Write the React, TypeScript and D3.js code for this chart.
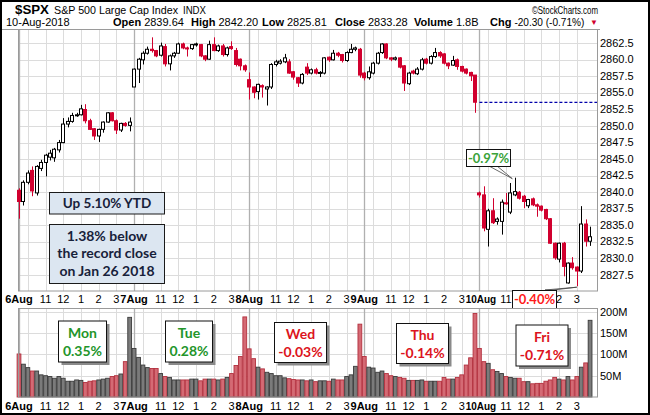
import React from 'react';
import * as d3 from 'd3';

type OHLC = [number, number, number, number]; // open, high, low, close

const dayLabels = ['6Aug', '7Aug', '8Aug', '9Aug', '10Aug'];
const barsPerDay = 26; // 15-minute bars
const gridSlots = [2, 6, 10, 14, 18, 22];
const hourSlots = [6, 10, 14, 18, 22];
const hourLabels = ['11', '12', '1', '2', '3'];

const aug6: OHLC[] = [
  [2840.3, 2840.6, 2836.0, 2838.6], [2838.6, 2841.8, 2838.0, 2841.5], [2841.5, 2843.3, 2841.2, 2842.9],
  [2843.3, 2843.9, 2839.4, 2840.2], [2839.9, 2844.1, 2839.5, 2843.9], [2843.6, 2844.9, 2843.2, 2844.5],
  [2844.5, 2845.8, 2842.4, 2845.6], [2845.3, 2846.4, 2844.8, 2845.9], [2845.2, 2846.7, 2844.6, 2846.5],
  [2846.4, 2847.9, 2846.0, 2847.5], [2847.5, 2851.2, 2847.4, 2850.3], [2850.3, 2851.3, 2849.8, 2850.7],
  [2850.7, 2852.0, 2850.5, 2851.6], [2851.6, 2852.0, 2851.4, 2851.7], [2851.7, 2853.2, 2851.6, 2852.6],
  [2852.5, 2853.3, 2850.4, 2850.8], [2850.8, 2851.1, 2849.4, 2849.5], [2849.6, 2849.7, 2847.9, 2848.5],
  [2848.5, 2849.6, 2847.6, 2849.5], [2849.5, 2850.7, 2849.0, 2850.6], [2850.6, 2852.1, 2850.5, 2852.0],
  [2852.0, 2852.1, 2850.7, 2850.8], [2850.8, 2851.0, 2848.8, 2849.4], [2849.4, 2850.5, 2849.1, 2850.4],
  [2850.4, 2850.6, 2849.9, 2850.1], [2850.1, 2851.3, 2849.2, 2850.6],
];
const aug7: OHLC[] = [
  [2855.9, 2858.7, 2855.9, 2858.6], [2858.6, 2860.3, 2856.5, 2860.1], [2860.0, 2861.3, 2859.3, 2861.0],
  [2861.0, 2862.0, 2860.8, 2861.6], [2861.6, 2863.4, 2861.1, 2861.4], [2861.4, 2861.5, 2860.4, 2860.6],
  [2860.7, 2862.6, 2860.5, 2862.1], [2862.0, 2862.4, 2859.0, 2859.4], [2859.4, 2860.8, 2858.4, 2860.6],
  [2860.6, 2861.2, 2860.3, 2861.0], [2861.0, 2862.6, 2860.9, 2862.4], [2862.4, 2862.6, 2861.6, 2861.8],
  [2861.8, 2862.0, 2860.5, 2861.7], [2861.7, 2862.4, 2861.5, 2862.3], [2862.3, 2862.6, 2862.0, 2862.4],
  [2862.3, 2862.4, 2860.4, 2860.6], [2860.6, 2860.7, 2859.8, 2860.1], [2860.1, 2862.9, 2860.0, 2862.3],
  [2862.3, 2863.4, 2861.3, 2861.4], [2861.4, 2862.3, 2861.2, 2862.1], [2862.1, 2862.4, 2860.5, 2860.8],
  [2860.8, 2862.0, 2860.5, 2861.8], [2862.0, 2862.8, 2861.5, 2861.7], [2861.4, 2861.8, 2859.0, 2859.3],
  [2860.1, 2860.2, 2858.4, 2859.1], [2859.1, 2859.3, 2858.2, 2858.5],
];
const aug8: OHLC[] = [
  [2857.0, 2858.1, 2854.0, 2855.9], [2855.9, 2856.0, 2854.2, 2855.1], [2855.2, 2856.4, 2854.0, 2856.3],
  [2856.1, 2856.3, 2854.3, 2855.9], [2855.6, 2856.0, 2853.1, 2855.9], [2855.9, 2859.5, 2855.6, 2859.3],
  [2859.3, 2860.0, 2859.0, 2859.7], [2859.5, 2860.1, 2859.3, 2859.8], [2859.7, 2860.9, 2859.5, 2860.3],
  [2859.7, 2860.1, 2857.9, 2858.0], [2858.2, 2858.3, 2857.0, 2857.4], [2857.3, 2857.4, 2855.9, 2856.5],
  [2856.5, 2858.0, 2856.3, 2857.8], [2858.9, 2859.5, 2857.7, 2858.0], [2858.0, 2858.7, 2857.8, 2858.5],
  [2858.5, 2858.8, 2857.8, 2858.0], [2858.0, 2858.3, 2857.4, 2858.1], [2858.0, 2860.4, 2857.8, 2860.3],
  [2860.4, 2860.5, 2859.7, 2860.0], [2860.0, 2861.5, 2859.9, 2861.0], [2861.0, 2861.2, 2860.4, 2860.7],
  [2860.8, 2860.9, 2859.6, 2859.9], [2859.9, 2861.3, 2859.7, 2861.1], [2861.1, 2862.4, 2861.0, 2861.6],
  [2861.6, 2862.0, 2861.3, 2861.8], [2861.6, 2861.8, 2857.3, 2857.7],
];
const aug9: OHLC[] = [
  [2858.0, 2858.2, 2856.9, 2857.3], [2857.3, 2859.0, 2857.0, 2858.2], [2858.0, 2859.7, 2857.8, 2859.5],
  [2859.5, 2861.2, 2859.3, 2861.0], [2861.1, 2862.5, 2860.9, 2862.4], [2862.4, 2862.5, 2860.1, 2860.3],
  [2860.3, 2860.4, 2859.8, 2860.1], [2860.1, 2860.5, 2859.9, 2860.3], [2860.3, 2860.4, 2858.7, 2858.9],
  [2859.1, 2859.2, 2855.3, 2856.5], [2856.4, 2858.2, 2856.2, 2858.0], [2858.3, 2858.5, 2857.8, 2858.0],
  [2857.9, 2858.9, 2857.7, 2858.6], [2858.6, 2860.3, 2858.4, 2860.0], [2860.1, 2860.3, 2859.3, 2859.5],
  [2859.5, 2860.7, 2859.3, 2860.5], [2860.5, 2861.8, 2860.3, 2861.1], [2861.1, 2861.3, 2860.3, 2860.6],
  [2860.9, 2861.0, 2859.3, 2859.5], [2859.5, 2859.6, 2858.6, 2859.1], [2859.2, 2860.6, 2859.1, 2859.9],
  [2860.0, 2860.2, 2858.5, 2859.0], [2859.0, 2859.1, 2858.1, 2858.3], [2858.6, 2858.7, 2857.8, 2858.0],
  [2858.1, 2858.2, 2856.8, 2857.6], [2857.7, 2857.7, 2852.0, 2853.6],
];
const aug10: OHLC[] = [
  [2839.9, 2840.1, 2839.2, 2839.6], [2839.6, 2840.9, 2834.1, 2834.6], [2834.4, 2837.5, 2831.8, 2837.2],
  [2837.2, 2839.1, 2835.2, 2835.4], [2835.6, 2836.2, 2835.1, 2835.95], [2835.6, 2838.9, 2833.6, 2838.5],
  [2838.4, 2839.9, 2838.1, 2838.3], [2837.0, 2841.4, 2836.7, 2839.9], [2839.6, 2842.2, 2839.4, 2840.1],
  [2840.0, 2840.2, 2838.9, 2839.1], [2839.4, 2839.6, 2837.6, 2838.6], [2837.96, 2839.0, 2837.6, 2838.9],
  [2839.0, 2839.2, 2837.9, 2838.1], [2838.1, 2838.3, 2836.3, 2837.9], [2837.9, 2838.0, 2837.1, 2837.3],
  [2837.4, 2837.5, 2835.8, 2836.0], [2836.0, 2836.1, 2832.2, 2832.3], [2832.3, 2832.4, 2829.8, 2830.1],
  [2829.9, 2832.4, 2829.4, 2832.3], [2832.3, 2832.5, 2827.3, 2828.8], [2826.3, 2829.4, 2826.2, 2829.3],
  [2829.3, 2830.2, 2828.3, 2828.6], [2828.7, 2828.8, 2825.81, 2828.1], [2828.1, 2837.9, 2827.8, 2835.2],
  [2835.2, 2835.9, 2831.8, 2832.6], [2832.6, 2834.8, 2831.9, 2833.28],
];

// volume in millions per 15-minute bar
const vol6 = [101, 77, 69, 61, 61, 52, 50, 48, 44, 48, 44, 37, 37, 40, 39, 34, 37, 38, 40, 42, 44, 48, 50, 54, 83, 187];
const vol7 = [114, 93, 75, 69, 67, 67, 55, 48, 46, 40, 40, 40, 40, 42, 42, 38, 42, 42, 42, 40, 42, 46, 55, 74, 95, 188];
const vol8 = [113, 90, 70, 66, 58, 55, 50, 50, 45, 43, 41, 40, 40, 38, 40, 36, 38, 38, 37, 42, 40, 40, 48, 52, 72, 171];
const vol9 = [95, 70, 68, 58, 61, 55, 50, 48, 46, 44, 39, 39, 39, 40, 37, 37, 37, 37, 46, 42, 42, 46, 52, 75, 92, 196];
const vol10 = [114, 83, 79, 64, 60, 55, 48, 46, 44, 44, 36, 36, 31, 32, 32, 37, 40, 46, 42, 40, 48, 40, 48, 70, 80, 180];

const priceTicks = [2827.5, 2830, 2832.5, 2835, 2837.5, 2840, 2842.5, 2845, 2847.5, 2850, 2852.5, 2855, 2857.5, 2860, 2862.5];
const volTicks = [50, 100, 150, 200];
const prevClose = 2853.58;

const headerFields: [string, string][] = [
  ['Open', '2839.64'], ['High', '2842.20'], ['Low', '2825.81'], ['Close', '2833.28'], ['Volume', '1.8B'], ['Chg', '-20.30 (-0.71%)'],
];
const dayNotes = [
  { day: 'Mon', chg: '0.35%', up: true },
  { day: 'Tue', chg: '0.28%', up: true },
  { day: 'Wed', chg: '-0.03%', up: false },
  { day: 'Thu', chg: '-0.14%', up: false },
  { day: 'Fri', chg: '-0.71%', up: false },
];
const ytdText = 'Up 5.10% YTD';
const recordLines = ['1.38% below', 'the record close', 'on Jan 26  2018'];
const callouts = [
  { label: '-0.97%', bar: 112, anchor: 'high', up: true },
  { label: '-0.40%', bar: 126, anchor: 'low', up: false },
];

// layout (pixels)
const FA = "'Liberation Sans', Arial, Helvetica, sans-serif";
const FN = "Lato, 'Open Sans', sans-serif";
const RED = '#d1002e';
const P = { x0: 18, x1: 597, y0: 29.5, y1: 291 };
const V = { x0: 18, x1: 597, y0: 308.5, y1: 397 };
const headerX = [113, 191, 262, 335, 414, 490];
const headerValueWidth: Record<string, number> = { Chg: 70 };
const noteBoxes = [
  { x: 58.5, y: 321, w: 48, h: 41 },
  { x: 165.5, y: 321, w: 47, h: 41 },
  { x: 274.5, y: 322.5, w: 52, h: 40 },
  { x: 396.5, y: 323.5, w: 52, h: 40 },
  { x: 516, y: 325, w: 52, h: 41 },
];
const calloutBoxes = [
  { x: 466, y: 149, w: 44, h: 17, base: [[489, 166], [497, 166]] },
  { x: 512, y: 290, w: 44, h: 18, base: [[545, 290], [553, 290]] },
];

export default function App() {
  const candles: OHLC[] = [...aug6, ...aug7, ...aug8, ...aug9, ...aug10];
  const volumes: number[] = [...vol6, ...vol7, ...vol8, ...vol9, ...vol10];
  const n = candles.length;

  const x = d3.scaleLinear().domain([0, n - 1]).range([19, 19 + (n - 1) * 4.427]);
  const yP = d3.scaleLinear().domain([2827.5, 2862.5]).range([275, 43.3]);
  const yV = d3.scaleLinear().domain([0, 200]).range([397, 311.8]);
  const fmt = d3.format('.1f');

  const vLines: { x: number; day: boolean }[] = [];
  dayLabels.forEach((_, d) => {
    vLines.push({ x: x(d * barsPerDay), day: true });
    gridSlots.forEach((s) => vLines.push({ x: x(d * barsPerDay + s), day: false }));
  });
  const crisp = (v: number) => Math.round(v) + 0.5;

  // hour labels hidden behind the -0.40% callout box in the price panel
  const hidden = (px: number, isPrice: boolean) => {
    if (!isPrice) return false;
    const b = calloutBoxes[1];
    return px > b.x + 2 && px < b.x + b.w;
  };

  const xLabels = (baseline: number, keyp: string, isPrice: boolean) =>
    dayLabels.map((lab, d) => {
      const dx = x(d * barsPerDay);
      const wide = lab.length > 4;
      return (
        <g key={keyp + d}>
          <text x={wide ? dx + 1.5 : dx} y={baseline} textAnchor="middle" fontWeight="bold" fontSize={11} fontFamily={FA}
            textLength={wide ? 30.5 : undefined} lengthAdjust="spacingAndGlyphs">{lab}</text>
          {hourSlots.map((s, j) =>
            hidden(x(d * barsPerDay + s), isPrice) ? null : (
              <text key={j} x={x(d * barsPerDay + s)} y={baseline} textAnchor="middle" fontSize={11} fontFamily={FA}>{hourLabels[j]}</text>
            )
          )}
        </g>
      );
    });

  return (
    <div style={{ position: 'absolute', left: 0, top: 0 }}>
      <svg width={650} height={415} style={{ display: 'block', background: '#fff' }}>
        <rect x={0} y={0} width={650} height={415} fill="#fff" />
        {/* header */}
        <text x={15} y={14} fontFamily={FA} fontWeight="bold" fontSize={13.5} textLength={34} lengthAdjust="spacingAndGlyphs">$SPX</text>
        <text x={54} y={14} fontFamily={FA} fontSize={11} textLength={124} lengthAdjust="spacingAndGlyphs">{'S&P 500 Large Cap Index'}</text>
        <text x={183} y={14} fontFamily={FA} fontSize={10} textLength={23} lengthAdjust="spacingAndGlyphs">INDX</text>
        <text x={532} y={14} fontFamily={FA} fontSize={10.5} textLength={66} lengthAdjust="spacingAndGlyphs">©StockCharts.com</text>
        <text x={6} y={26} fontFamily={FA} fontSize={11}>10-Aug-2018</text>
        {headerFields.map(([k, v], i) => (
          <text key={k} x={headerX[i]} y={26} fontFamily={FA} fontSize={11}>
            <tspan fontWeight="bold">{k}</tspan>
            <tspan dx={3} textLength={headerValueWidth[k]} lengthAdjust="spacingAndGlyphs">{v}</tspan>
          </text>
        ))}
        <text x={590} y={25} fontFamily={FA} fontSize={8} fill={RED}>▼</text>
        <line x1={2} x2={600} y1={29.5} y2={29.5} stroke="#9a9a9a" />

        {/* price panel grid */}
        {priceTicks.map((t) => (
          <line key={'hp' + t} x1={P.x0} x2={P.x1} y1={crisp(yP(t))} y2={crisp(yP(t))} stroke="#dcdcdc" />
        ))}
        {vLines.map((l, i) => (
          <line key={'vp' + i} x1={crisp(l.x)} x2={crisp(l.x)} y1={P.y0} y2={P.y1} stroke={l.day ? '#b0b0b0' : '#dcdcdc'} strokeWidth={l.day ? 1.3 : 1} />
        ))}
        <rect x={P.x0 + 0.5} y={P.y0} width={P.x1 - P.x0} height={P.y1 - P.y0} fill="none" stroke="#9a9a9a" />

        {/* info boxes */}
        <rect x={49.5} y={192.5} width={115} height={21.5} fill="#dce6f1" stroke="#1a1a1a" />
        <text x={107} y={208.3} textAnchor="middle" fontFamily={FN} fontWeight="bold" fontSize={13.5} fill="#17213a">{ytdText}</text>
        <rect x={49.5} y={224.5} width={115} height={59} fill="#dce6f1" stroke="#1a1a1a" />
        {recordLines.map((t, i) => (
          <text key={t} x={107} y={240.5 + i * 17.6} textAnchor="middle" fontFamily={FN} fontWeight="bold" fontSize={14} fill="#17213a">{t}</text>
        ))}

        {/* previous close dashed */}
        <line x1={x(4 * barsPerDay)} x2={P.x1} y1={yP(prevClose)} y2={yP(prevClose)} stroke="#0000aa" strokeWidth={1.2} strokeDasharray="3,2" />

        {/* candles */}
        {candles.map((d, k) => {
          const [o, h, l, c] = d;
          const cx = crisp(x(k));
          const up = c >= o;
          const col = up ? '#000' : RED;
          const yt = yP(Math.max(o, c));
          const yb = yP(Math.min(o, c));
          return (
            <g key={'c' + k}>
              <line x1={cx} x2={cx} y1={yP(h)} y2={yP(l)} stroke={col} strokeWidth={1} />
              <rect x={cx - 2} y={yt} width={3} height={Math.max(1, yb - yt)} fill={up ? '#fff' : RED} stroke={col} strokeWidth={1} />
            </g>
          );
        })}

        {/* price axis labels */}
        {priceTicks.map((t) => (
          <text key={'pl' + t} x={600} y={yP(t) + 3.5} fontFamily={FA} fontSize={11}>{fmt(t)}</text>
        ))}
        {xLabels(303.3, 'px', true)}

        {/* callouts */}
        {callouts.map((cl, i) => {
          const b = calloutBoxes[i];
          const [, h, l] = candles[cl.bar];
          const tip: [number, number] = cl.anchor === 'high' ? [x(cl.bar) - 2.5, yP(h) + 1] : [x(cl.bar), yP(l) + 1];
          const pts = [b.base[0], tip, b.base[1]].map((p) => p.join(',')).join(' ');
          return (
            <g key={'cl' + i}>
              <polygon points={pts} fill="#fff" stroke="#444" strokeWidth={0.8} />
              <rect x={b.x + 0.5} y={b.y + 0.5} width={b.w} height={b.h} fill="#fff" stroke="#111" />
              <text x={b.x + b.w / 2 + 0.5} y={b.y + b.h / 2 + 5} textAnchor="middle" fontFamily={FN} fontWeight="bold" fontSize={13} fill={cl.up ? '#3aa33a' : '#ff1a1a'}>{cl.label}</text>
            </g>
          );
        })}

        {/* volume panel grid */}
        {volTicks.map((t) => (
          <line key={'hv' + t} x1={V.x0} x2={V.x1} y1={crisp(yV(t))} y2={crisp(yV(t))} stroke="#dcdcdc" />
        ))}
        {vLines.map((l, i) => (
          <line key={'vv' + i} x1={crisp(l.x)} x2={crisp(l.x)} y1={V.y0} y2={V.y1} stroke={l.day ? '#b0b0b0' : '#dcdcdc'} strokeWidth={l.day ? 1.3 : 1} />
        ))}
        {volumes.map((v, k) => {
          const [o, , , c] = candles[k];
          const dn = c < o;
          return (
            <rect key={'v' + k} x={x(k) - 1.9} y={yV(v)} width={3.8} height={yV(0) - yV(v)}
              fill={dn ? '#d46a74' : '#7b7b7b'} stroke={dn ? '#b3303e' : '#3a3a3a'} strokeWidth={0.9} />
          );
        })}
        <rect x={V.x0 + 0.5} y={V.y0} width={V.x1 - V.x0} height={V.y1 - V.y0} fill="none" stroke="#9a9a9a" />
        {volTicks.map((t) => (
          <text key={'vl' + t} x={600} y={yV(t) + 4} fontFamily={FA} fontSize={11}>{t + 'M'}</text>
        ))}
        {xLabels(409.7, 'vx', false)}

        {/* day notes */}
        {dayNotes.map((dn, i) => {
          const b = noteBoxes[i];
          const col = dn.up ? '#23952a' : '#dc1420';
          return (
            <g key={'dn' + i}>
              <rect x={b.x + 3} y={b.y + 3} width={b.w} height={b.h} fill="#8a8a8a" />
              <rect x={b.x} y={b.y} width={b.w} height={b.h} fill="#fff" stroke="#111" />
              <text x={b.x + b.w / 2} y={b.y + 16.5} textAnchor="middle" fontFamily={FN} fontWeight="bold" fontSize={14} fill={col}>{dn.day}</text>
              <text x={b.x + b.w / 2} y={b.y + 34.5} textAnchor="middle" fontFamily={FN} fontWeight="bold" fontSize={14} fill={col}>{dn.chg}</text>
            </g>
          );
        })}

        {/* outer frame */}
        <rect x={1} y={1} width={648} height={413} fill="none" stroke="#000" strokeWidth={2} />
      </svg>
    </div>
  );
}
